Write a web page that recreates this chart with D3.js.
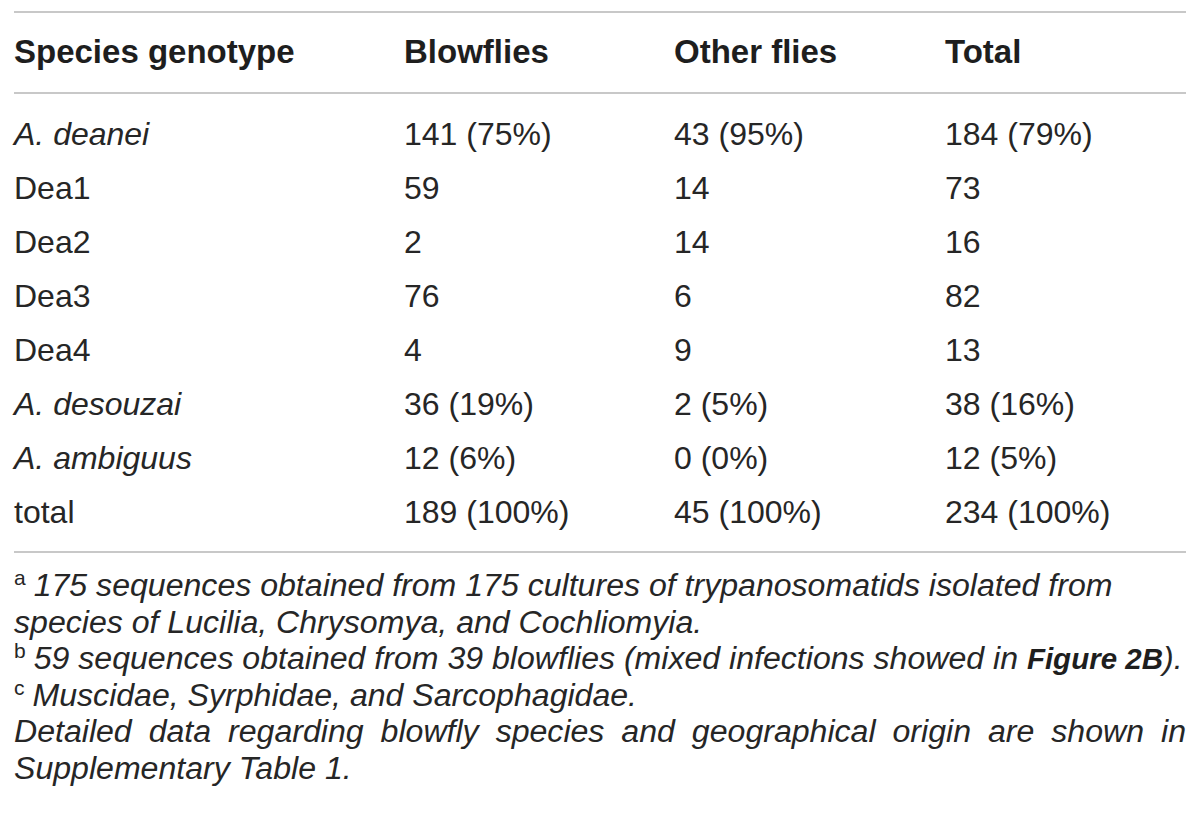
<!DOCTYPE html>
<html>
<head>
<meta charset="utf-8">
<script src="https://cdn.jsdelivr.net/npm/d3@7"></script>
<style>
  html, body { margin: 0; padding: 0; background: #ffffff; }
  svg { display: block; }
</style>
</head>
<body>
<svg id="chart" width="1200" height="829"></svg>
<script>
// ---- data ----
const columns = ["Species genotype", "Blowflies", "Other flies", "Total"];
const rowLabels = ["A. deanei", "Dea1", "Dea2", "Dea3", "Dea4", "A. desouzai", "A. ambiguus", "total"];
const rowItalic = [true, false, false, false, false, true, true, false];
const blowflies = ["141 (75%)", "59", "2", "76", "4", "36 (19%)", "12 (6%)", "189 (100%)"];
const otherFlies = ["43 (95%)", "14", "14", "6", "9", "2 (5%)", "0 (0%)", "45 (100%)"];
const totals = ["184 (79%)", "73", "16", "82", "13", "38 (16%)", "12 (5%)", "234 (100%)"];
const footnotes = [
  { sup: "a", parts: [{ t: "175 sequences obtained from 175 cultures of trypanosomatids isolated from" }] },
  { sup: "", parts: [{ t: "species of Lucilia, Chrysomya, and Cochliomyia." }] },
  { sup: "b", parts: [{ t: "59 sequences obtained from 39 blowflies (mixed infections showed in " }, { t: "Figure 2B", bold: true }, { t: ")." }] },
  { sup: "c", parts: [{ t: "Muscidae, Syrphidae, and Sarcophagidae." }] },
  { sup: "", justify: true, parts: [{ t: "Detailed data regarding blowfly species and geographical origin are shown in" }] },
  { sup: "", parts: [{ t: "Supplementary Table 1." }] }
];

// ---- layout ----
const svg = d3.select("#chart");
const font = "'Liberation Sans', Arial, Helvetica, sans-serif";
const textColor = "#262626";
const ruleColor = "#c8c8c8";
const left = 14, right = 1186;
const fnSize = 32.1;

const colX = d3.scaleOrdinal().domain(columns).range([14, 404, 674, 945]);
const rowY = d3.scaleLinear().domain([0, rowLabels.length - 1]).range([145, 523]);

// rules
[12, 93, 552].forEach(y => {
  svg.append("line").attr("x1", left).attr("x2", right).attr("y1", y).attr("y2", y)
    .attr("stroke", ruleColor).attr("stroke-width", 2);
});

// header
svg.selectAll("text.head").data(columns).join("text")
  .attr("class", "head")
  .attr("x", d => colX(d)).attr("y", 63)
  .attr("font-family", font).attr("font-size", 33).attr("font-weight", "bold")
  .attr("fill", "#1e1e1e")
  .text(d => d);

// body rows
const rows = rowLabels.map((l, i) => [l, blowflies[i], otherFlies[i], totals[i]]);
rows.forEach((r, i) => {
  r.forEach((cell, j) => {
    svg.append("text")
      .attr("x", colX(columns[j])).attr("y", rowY(i))
      .attr("font-family", font).attr("font-size", 32)
      .attr("font-style", j === 0 && rowItalic[i] ? "italic" : "normal")
      .attr("fill", textColor)
      .text(cell);
  });
});

// footnotes
const fnY = d3.scaleLinear().domain([0, footnotes.length - 1]).range([596, 779]);
footnotes.forEach((fn, i) => {
  const y = fnY(i);
  let x = left;
  if (fn.sup) {
    const s = svg.append("text").attr("x", x).attr("y", y - 11)
      .attr("font-family", font).attr("font-size", 21).attr("fill", textColor).text(fn.sup);
    x += s.node().getComputedTextLength() + 8;
  }
  if (fn.justify) {
    const words = fn.parts[0].t.split(" ");
    const nodes = words.map(w => svg.append("text").attr("y", y)
      .attr("font-family", font).attr("font-size", fnSize).attr("font-style", "italic")
      .attr("fill", textColor).text(w));
    const widths = nodes.map(n => n.node().getComputedTextLength());
    const gap = (right - x - d3.sum(widths)) / (words.length - 1);
    nodes.forEach((n, k) => { n.attr("x", x); x += widths[k] + gap; });
  } else {
    const t = svg.append("text").attr("x", x).attr("y", y)
      .attr("font-family", font).attr("font-size", fnSize).attr("font-style", "italic")
      .attr("fill", textColor);
    fn.parts.forEach(p => {
      const ts = t.append("tspan").text(p.t);
      if (p.bold) ts.attr("font-weight", "bold").attr("font-size", 29.5).attr("fill", "#1e1e1e");
    });
  }
});
</script>
</body>
</html>
